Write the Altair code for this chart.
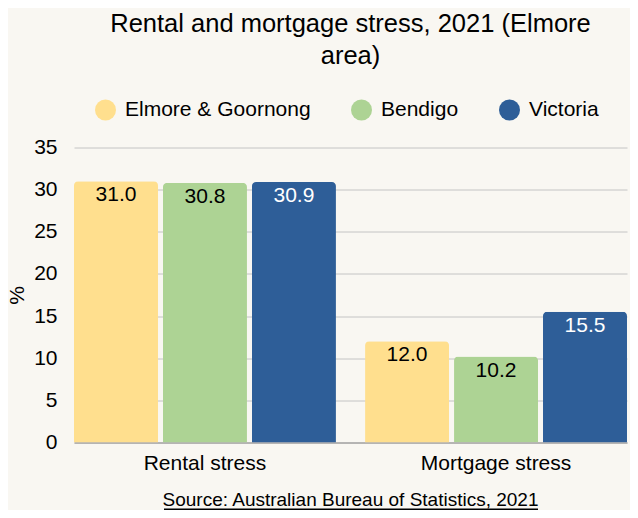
import altair as alt
import pandas as pd

categories = ["Rental stress", "Mortgage stress"]
regions = ["Elmore & Goornong", "Bendigo", "Victoria"]
rental_values = [31.0, 30.8, 30.9]
mortgage_values = [12.0, 10.2, 15.5]
colors = ["#FFDF8E", "#ADD394", "#2E5E98"]
y_ticks = [0, 5, 10, 15, 20, 25, 30, 35]
title_lines = ["Rental and mortgage stress, 2021 (Elmore", "area)"]
source_text = ["Source: Australian Bureau of Statistics, 2021"]

rows = []
for cat, vals in zip(categories, [rental_values, mortgage_values]):
    for reg, v in zip(regions, vals):
        rows.append({"measure": cat, "region": reg, "value": v})
df = pd.DataFrame(rows)

FONT = "Liberation Sans"
W, H = 553, 295

x_enc = alt.X(
    "measure:N",
    sort=categories,
    scale=alt.Scale(paddingInner=0.1, paddingOuter=0),
    axis=alt.Axis(
        title=None, labelAngle=0, ticks=False, domain=True, domainColor="#8c8c8c",
        labelPadding=10, labelFontSize=21, labelFont=FONT, labelColor="black", grid=False,
    ),
)
xo_enc = alt.XOffset("region:N", sort=regions, scale=alt.Scale(paddingInner=0.056, paddingOuter=0))
y_enc = alt.Y(
    "value:Q",
    scale=alt.Scale(domain=[0, 35], nice=False),
    axis=alt.Axis(
        values=y_ticks, title="%", grid=True, gridColor="#C4C4C4", ticks=False, domain=False,
        labelPadding=17, labelFontSize=21, labelFont=FONT, labelColor="black",
        titleFontSize=21, titleFont=FONT, titleFontWeight="normal", titleColor="black",
        titlePadding=6,
    ),
)

base = alt.Chart(df)

bars = base.mark_bar(cornerRadiusTopLeft=4, cornerRadiusTopRight=4).encode(
    x=x_enc,
    xOffset=xo_enc,
    y=y_enc,
    color=alt.Color(
        "region:N",
        sort=regions,
        scale=alt.Scale(domain=regions, range=colors),
        legend=alt.Legend(
            title=None, orient="none", direction="horizontal",
            legendX=21, legendY=-48, symbolType="circle", symbolSize=441,
            symbolStrokeWidth=0, symbolOpacity=1, labelFontSize=21, labelFont=FONT,
            labelColor="black", labelOffset=9, columnPadding=40, padding=0, labelLimit=0,
        ),
    ),
)

labels = base.mark_text(baseline="alphabetic", dy=20, fontSize=21, font=FONT).encode(
    x=x_enc,
    xOffset=xo_enc,
    y=y_enc,
    text=alt.Text("value:Q", format=".1f"),
    color=alt.condition(alt.datum.region == "Victoria", alt.value("white"), alt.value("black")),
)

src = alt.Chart(pd.DataFrame({"t": source_text})).mark_text(
    fontSize=19, font=FONT, color="black", baseline="alphabetic", align="center"
).encode(text="t:N", x=alt.value(W / 2), y=alt.value(358.5))

underline = alt.Chart(pd.DataFrame({"t": source_text})).mark_rule(
    color="black", strokeWidth=1.6
).encode(x=alt.value(90), x2=alt.value(464), y=alt.value(361.8))

chart = alt.layer(bars, labels, src, underline).properties(
    width=W,
    height=H,
    autosize=alt.AutoSizeParams(type="none"),
    padding={"left": 66, "top": 139.5, "right": 3, "bottom": 67.5},
    title=alt.TitleParams(
        text=title_lines, fontSize=25.5, font=FONT, fontWeight="normal", color="black",
        anchor="middle", lineHeight=32, offset=30,
    ),
).configure(background="#F9F7F2").configure_view(stroke=None)

chart.save("out.html", embed_options={"renderer": "svg", "actions": False})
